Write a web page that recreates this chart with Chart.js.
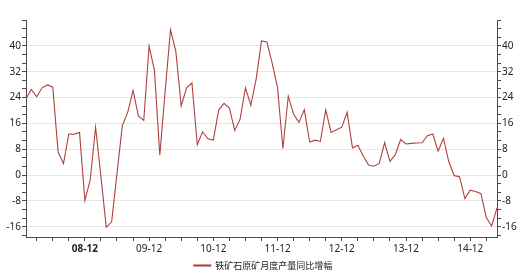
<!DOCTYPE html>
<html>
<head>
<meta charset="utf-8">
<script src="https://cdn.jsdelivr.net/npm/chart.js@4/dist/chart.umd.min.js"></script>
<style>
  html, body { margin: 0; padding: 0; background: #fff; }
  #wrap { width: 526px; height: 280px; }
</style>
</head>
<body>
<div id="wrap"><canvas id="c"></canvas></div>
<script>
// monthly yoy growth, Jan..Dec
var years = ['08', '09', '10', '11', '12', '13', '14', '15'];
var months = ['01', '02', '03', '04', '05', '06', '07', '08', '09', '10', '11', '12'];
var v2008 = [23.6, 26.5, 24.2, 27.0, 27.9, 27.2, 7.1, 3.5, 12.7, 12.6, 13.2, -7.9];
var v2009 = [-1.5, 14.8, -0.5, -16.2, -14.5, 0.5, 15.3, 19.4, 26.2, 18.3, 16.9, 39.9];
var v2010 = [32.4, 6.1, 26.0, 45.0, 38.2, 21.4, 27.0, 28.5, 9.4, 13.4, 11.2, 10.8];
var v2011 = [20.1, 22.2, 20.7, 13.8, 17.3, 27.0, 21.6, 29.7, 41.5, 41.2, 34.6, 27.0];
var v2012 = [8.2, 24.4, 18.8, 16.3, 20.2, 10.2, 10.8, 10.4, 20.2, 13.2, 14.0, 14.8];
var v2013 = [19.4, 8.4, 9.2, 5.9, 3.1, 2.7, 3.6, 10.0, 4.2, 6.3, 11.0, 9.6];
var v2014 = [9.8, 9.9, 10.0, 12.2, 12.7, 7.4, 11.4, 4.1, -0.2, -0.5, -7.3, -4.7];
var v2015 = [-5.1, -5.8, -13.2, -15.8, -10.2];
var seriesName = '铁矿石原矿月度产量同比增幅';

var values = [].concat(v2008, v2009, v2010, v2011, v2012, v2013, v2014, v2015);
var labels = [];
years.forEach(function (y) {
    months.forEach(function (m) { labels.push(y + '-' + m); });
});
labels = labels.slice(0, values.length);

var FONT = "'Noto Sans', 'Noto Sans CJK SC', sans-serif";
var AXIS = '#4a4a4a';
var RED = '#b0403f';

function isMajor(v) {
    return Math.abs(v / 8 - Math.round(v / 8)) < 1e-6 && v < 47;
}
function yTicks(scale) {
    var t = [];
    for (var k = -7; k <= 18; k++) t.push({ value: k * 8 / 3 });
    scale.ticks = t;
}
function yLabel(v) {
    return isMajor(v) ? String(Math.round(v)) : '';
}

new Chart(document.getElementById('c'), {
    type: 'line',
    data: {
        labels: labels,
        datasets: [{
            label: seriesName,
            data: values,
            borderColor: RED,
            backgroundColor: RED,
            borderWidth: 1.1,
            pointRadius: 0,
            tension: 0,
        }],
    },
    options: {
        responsive: true,
        maintainAspectRatio: false,
        animation: false,
        layout: { padding: { top: 20, left: 0, right: 0, bottom: 0 } },
        plugins: {
            tooltip: { enabled: false },
            legend: {
                position: 'bottom',
                labels: {
                    boxWidth: 17,
                    boxHeight: 1,
                    padding: 3,
                    color: '#222',
                    font: { family: "'Noto Sans CJK SC', sans-serif", size: 9 },
                },
            },
        },
        scales: {
            x: {
                type: 'category',
                offset: false,
                border: { color: AXIS },
                grid: {
                    offset: false,
                    drawOnChartArea: false,
                    tickLength: 4,
                    tickColor: function (ctx) { return ctx.index % 3 === 2 ? AXIS : 'transparent'; },
                },
                ticks: {
                    autoSkip: false,
                    maxRotation: 0,
                    padding: 2,
                    color: '#222',
                    font: function (ctx) {
                        return { family: FONT, size: 10, weight: ctx.index === 11 ? 'bold' : 'normal' };
                    },
                    callback: function (v, i) { return i % 12 === 11 ? labels[i] : ''; },
                },
                afterFit: function (s) { s.height = 21; },
            },
            y: {
                position: 'left',
                min: -19.2,
                max: 48,
                border: { color: AXIS },
                afterBuildTicks: yTicks,
                grid: {
                    tickLength: 4,
                    tickColor: AXIS,
                    color: function (ctx) { return ctx.tick && isMajor(ctx.tick.value) ? '#e6e6e6' : 'transparent'; },
                },
                ticks: {
                    autoSkip: false,
                    padding: 1,
                    color: '#222',
                    font: { family: FONT, size: 10 },
                    callback: yLabel,
                },
                afterFit: function (s) { s.width = 26; },
            },
            y2: {
                position: 'right',
                min: -19.2,
                max: 48,
                border: { color: AXIS },
                afterBuildTicks: yTicks,
                grid: {
                    drawOnChartArea: false,
                    tickLength: 4,
                    tickColor: AXIS,
                },
                ticks: {
                    autoSkip: false,
                    padding: 1,
                    color: '#222',
                    font: { family: FONT, size: 10 },
                    callback: yLabel,
                },
                afterFit: function (s) { s.width = 29; },
            },
        },
    },
});
</script>
</body>
</html>
